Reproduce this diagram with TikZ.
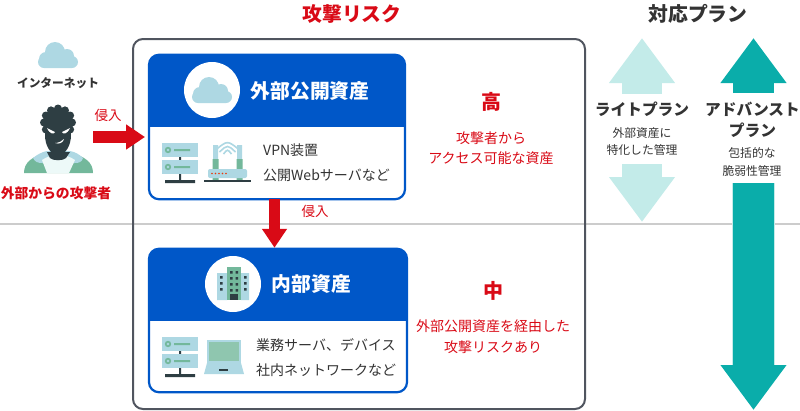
\documentclass[tikz,border=0pt]{standalone}
\usepackage{fontspec}
\setmainfont{Noto Sans CJK JP}
\usetikzlibrary{arrows.meta,calc}
\definecolor{cardblue}{HTML}{0057C8}
\definecolor{alertred}{HTML}{D90A16}
\definecolor{planteal}{HTML}{0AADAA}
\definecolor{planpale}{HTML}{C3EBE9}
\definecolor{iconblue}{HTML}{AED8E3}
\definecolor{icongreen}{HTML}{73B89B}
\definecolor{icondark}{HTML}{2E3E43}
\definecolor{textdark}{HTML}{333333}
\definecolor{framegrey}{HTML}{50555F}
\newcommand{\fs}[1]{\fontsize{#1}{#1}\selectfont}
\tikzset{
    plaintext/.style={inner sep=0pt, text=textdark, align=center},
    heading/.style={plaintext, font=\fs{19.8}\bfseries},
    redtext/.style={plaintext, text=alertred, font=\fs{14}},
    bodytext/.style={plaintext, anchor=west, font=\fs{14}},
    cardtitle/.style={plaintext, text=white, font=\fs{19.8}\bfseries},
    cardbox/.style={draw=cardblue, fill=white, line width=2.2pt, rounded corners=10pt, outer sep=0pt, inner sep=0pt},
    intrude/.style={draw=alertred, line width=11.5pt, -{Triangle[length=19pt,width=24pt]}},
    planlight/.style={draw=planpale, line width=40pt, -{Triangle[length=45pt,width=63pt]}},
    planfull/.style={draw=planteal, line width=41pt, -{Triangle[length=45pt,width=63pt]}},
    cloudicon/.pic={
        \fill[iconblue, rounded corners=6pt] (-20,13) rectangle (20,1);
        \fill[iconblue] (-3,-3) circle[radius=10pt] (9,1) circle[radius=7pt] (-12,4) circle[radius=7pt];
    },
    servericon/.pic={
        \fill[icondark] (-1,14) rectangle (1,17) (-1,31) rectangle (1,37) (-15,37) rectangle (15,40);
        \foreach \ty in {0,17} {
            \fill[iconblue] (-18,\ty) rectangle (18,\ty+14);
            \fill[icongreen] (-12,\ty+7) circle[radius=3.2pt] (-6,\ty+6) rectangle (10,\ty+8);
            \fill[iconblue] (-12,\ty+7) circle[radius=1.4pt];
        }
    },
}

\begin{document}
\begin{tikzpicture}[x=1pt, y=-1pt]
    \useasboundingbox (0,0) rectangle (800,410);
    \draw[black!20, line width=1.6pt] (0,224) -- (800,224);
    \node[cardbox, draw=framegrey, fill=none, line width=2pt, minimum width=452pt, minimum height=370pt] (frame) at (359,224) {};

    \node[heading, text=alertred] (riskhead) at (352,14) {攻撃リスク};
    \node[heading] (planhead) at (698,14) {対応プラン};

    % cards
    \node[cardbox, minimum width=256pt, minimum height=144.5pt] (extcard) at (277,127) {};
    \node[cardbox, minimum width=258pt, minimum height=143.5pt] (intcard) at (278,320.5) {};
    \foreach \cardname/\hy in {extcard/126,intcard/320} {
        \coordinate (split) at (0,\hy);
        \begin{scope}
            \clip (\cardname.north west) rectangle (\cardname.east |- split);
            \fill[cardblue, rounded corners=10pt] (\cardname.north west) rectangle (\cardname.south east);
        \end{scope}
    }
    \fill[white] (212,90) circle[radius=28pt] (233,284) circle[radius=28pt];
    \node[cardtitle] (exttitle) at (310,91) {外部公開資産};
    \node[cardtitle] (inttitle) at (311.5,284) {内部資産};
    \node[bodytext] (vpn) at (263,150) {VPN装置};
    \node[bodytext] (web) at (263,175) {公開Webサーバなど};
    \node[bodytext] (biz) at (256,345) {業務サーバ、デバイス};
    \node[bodytext] (lan) at (256,370) {社内ネットワークなど};

    % icons
    \pic at (58,55) {cloudicon};
    \pic at (212,90) {cloudicon};
    \pic at (180,143) {servericon};
    \pic at (180,337) {servericon};

    % router
    \fill[iconblue] (213,145) rectangle (218,159) (237,145) rectangle (242,159);
    \fill[icongreen] (212.5,159) rectangle (218.5,180) (236.5,159) rectangle (242.5,180);
    \fill[iconblue, rounded corners=2pt] (208,169) rectangle (247,178);
    \fill[icondark] (204,179.5) rectangle (251,181.5);
    \foreach \dotx in {212,215.5,219,222.5,226} {
        \fill[alertred!60!orange] (\dotx,173.5) circle[radius=0.8pt];
    }
    \foreach \wifi in {0,4,8} {
        \draw[iconblue, line width=1.6pt] (227.5-4-\wifi,154-\wifi/2) .. controls (227.5,149-\wifi*1.1) .. (227.5+4+\wifi,154-\wifi/2);
    }

    % laptop
    \fill[iconblue] (207,340) rectangle (241,364);
    \fill[icongreen!80] (209,342) rectangle (239,361);
    \fill[iconblue] (207,363) -- (241,363) -- (244,374) -- (204,374) -- cycle;
    \fill[icondark] (219,368.5) rectangle (228,370.5);

    % building
    \fill[iconblue] (217,273) rectangle (227,300) (241,273) rectangle (249,300);
    \fill[icongreen] (227,267) rectangle (241,300);
    \foreach \winy in {271,277,283,289} {
        \fill[icondark] (230,\winy) rectangle (232.5,\winy+2.5) (235.5,\winy) rectangle (238,\winy+2.5);
    }
    \foreach \winy in {276,282,288} {
        \fill[icondark] (220,\winy) rectangle (222.5,\winy+2.5) (244,\winy) rectangle (246.5,\winy+2.5);
    }
    \fill[icondark] (230,294) rectangle (238,300);

    % attacker
    \fill[icongreen] (24,173) .. controls (24,162) and (32,157) .. (47,152) -- (70,152) .. controls (85,157) and (93,162) .. (93,173) -- cycle;
    \fill[iconblue] (33,158) .. controls (38,154) and (42,152) .. (47,151) -- (70,151) .. controls (75,152) and (79,154) .. (83,158) .. controls (82,162) and (79,163) .. (75,163) -- (42,163) .. controls (38,163) and (35,162) .. (33,158) -- cycle;
    \fill[planpale!30] (42,160) -- (47,173) -- (69,173) -- (75,160) .. controls (65,153) and (52,153) .. (42,160) -- cycle;
    \fill[icondark] (47,152) -- (50,158) .. controls (53,161) and (63,161) .. (66,158) -- (70,152) -- cycle;
    \fill[icondark] (58,135) ellipse[x radius=13pt, y radius=20pt];
    \fill[icondark] (58,122.5) circle[radius=15pt];
    \foreach \a in {0,30,...,330} {
        \fill[icondark] ($(58,122.5)+(\a:14)$) circle[radius=4pt];
    }
    \fill[white] (47,128) -- (55,132) .. controls (54,134.5) and (50,134.5) .. (47,128) -- cycle;
    \fill[white] (70,128) -- (62,132) .. controls (63,134.5) and (67,134.5) .. (70,128) -- cycle;
    \fill[white] (55,143) .. controls (59,143) and (62,141) .. (64,139) .. controls (63,143) and (59,144.5) .. (55,143) -- cycle;

    \node[plaintext, font=\fs{11.7}\bfseries] (inet) at (58,83) {インターネット};
    \node[redtext, font=\fs{13.8}\bfseries] (attackertext) at (56,193) {外部からの攻撃者};

    % intrusion arrows
    \coordinate (attacker) at (93,137);
    \coordinate (breach) at (274.5,199);
    \draw[intrude, shorten >=4pt] (attacker) -- (attacker -| extcard.west);
    \draw[intrude, shorten >=1pt] (breach) -- (breach |- intcard.north);
    \node[redtext, font=\fs{13.5}] (introone) at (108,115) {侵入};
    \node[redtext, font=\fs{13.5}] (introtwo) at (315,211) {侵入};

    % risk levels
    \node[redtext, font=\fs{20}\bfseries] (high) at (491,102) {高};
    \node[redtext, font=\fs{20}\bfseries] (mid) at (493,291) {中};
    \node[redtext] (hightext1) at (491,138) {攻撃者から};
    \node[redtext] (hightext2) at (491,158) {アクセス可能な資産};
    \node[redtext] (midtext1) at (493,326) {外部公開資産を経由した};
    \node[redtext] (midtext2) at (493,347) {攻撃リスクあり};

    % plans
    \coordinate (lightup) at (642,94);
    \coordinate (lightdown) at (642,164);
    \coordinate (advup) at (753.5,93);
    \coordinate (advdown) at (753.5,183);
    \draw[planlight] (lightup) -- (642,38);
    \draw[planlight] (lightdown) -- (642,222);
    \draw[planpale, line width=43pt] (advdown) -- (753.5,365);
    \draw[planfull] (advup) -- (753.5,38);
    \draw[planfull] (advdown) -- (753.5,410);

    \node[plaintext, font=\fs{15.7}\bfseries] (lightname) at (642,109) {ライトプラン};
    \node[plaintext, font=\fs{15.7}\bfseries] (advname1) at (752.5,109) {アドバンスト};
    \node[plaintext, font=\fs{15.7}\bfseries] (advname2) at (752.5,130) {プラン};
    \node[plaintext, font=\fs{11.8}] (lightnote1) at (642,133) {外部資産に};
    \node[plaintext, font=\fs{11.8}] (lightnote2) at (642,150) {特化した管理};
    \node[plaintext, font=\fs{11.8}] (advnote1) at (752,153) {包括的な};
    \node[plaintext, font=\fs{11.8}] (advnote2) at (752,171) {脆弱性管理};
\end{tikzpicture}
\end{document}
